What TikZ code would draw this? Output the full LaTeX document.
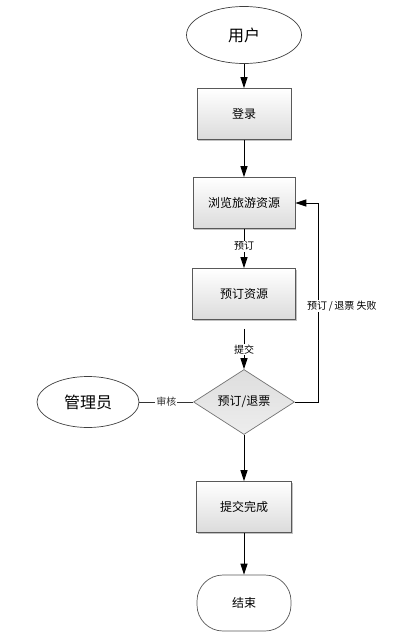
\documentclass[tikz,border=0pt]{standalone}
\usepackage{fontspec}
\setmainfont{Noto Sans CJK SC}
\usetikzlibrary{arrows.meta,shapes.geometric,shadows}
\tikzset{
  actor/.style={ellipse, draw=black!75, fill=white, line width=0.7pt, font=\fontsize{16}{18}\selectfont},
  stepbox/.style={rectangle, draw=black!65, top color=white, bottom color=black!14, line width=0.7pt,
    drop shadow={shadow xshift=1pt, shadow yshift=-1pt, fill=black!40, opacity=0.6},
    minimum height=51pt, font=\fontsize{12}{14}\selectfont},
  decision/.style={diamond, draw=black!55, top color=black!13, bottom color=black!7, line width=0.7pt,
    minimum width=101pt, minimum height=65pt, inner sep=0pt, font=\fontsize{12}{14}\selectfont},
  endbox/.style={rectangle, rounded corners=26pt, draw=black!65, fill=white, line width=0.7pt,
    minimum width=94pt, minimum height=56pt, font=\fontsize{12}{14}\selectfont},
  flow/.style={-{Triangle[length=11pt,width=7pt]}, line width=0.9pt, black},
  link/.style={line width=0.9pt, black!80},
  lbl/.style={fill=white, inner sep=1pt, font=\fontsize{10}{12}\selectfont},
}

\begin{document}
\begin{tikzpicture}[x=1pt,y=-1pt]
  \useasboundingbox (0,0) rectangle (403,637);
  % main column
  \node[actor, minimum width=115pt, minimum height=57pt] (user) at (244,35) {用户};
  \node[stepbox, minimum width=94pt] (login) at (244,114) {登录};
  \node[stepbox, minimum width=102pt] (browse) at (244,203) {浏览旅游资源};
  \node[stepbox, minimum width=103pt] (book) at (244,294) {预订资源};
  \node[decision] (check) at (244,402) {预订/退票};
  \node[stepbox, minimum width=95pt] (done) at (244,507) {提交完成};
  \node[endbox] (finish) at (244,603) {结束};
  % administrator
  \node[actor, minimum width=102pt, minimum height=51pt] (admin) at (88,402) {管理员};
  % connectors
  \draw[flow] (user) -- (login);
  \draw[flow] (login) -- (browse);
  \draw[flow] (browse) -- node[lbl, pos=0.44] (lblbook) {预订} (book);
  \draw[flow, shorten <=9pt] (book) -- node[lbl, pos=0.6] (lblsubmit) {提交} (check);
  \draw[link] (admin) -- node[lbl] (lblaudit) {审核} (check);
  \draw[flow] (check) -- (done);
  \draw[flow] (done) -- (finish);
  % failed booking goes back
  \draw[flow] (check.east) -- ++(24,0) coordinate (back) |- (browse.east);
  \node[lbl, anchor=west] (lblfail) at (306,306) {预订\,/\,退票\ 失败};
\end{tikzpicture}
\end{document}
